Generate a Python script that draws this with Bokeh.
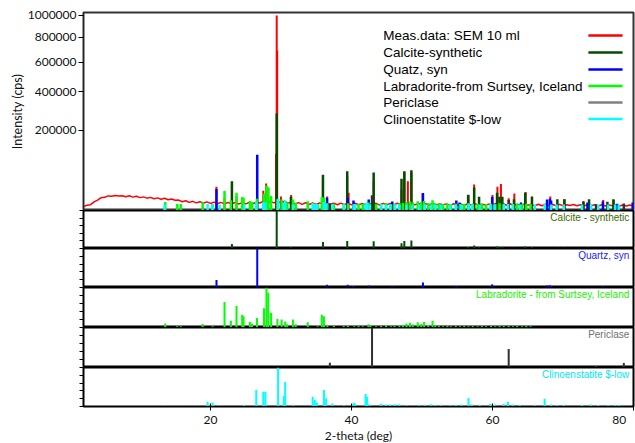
import numpy as np
from bokeh.plotting import figure
from bokeh.layouts import column
from bokeh.models import Range1d, FixedTicker, Label, Title
from bokeh.embed import file_html
from bokeh.resources import INLINE

# ---------------- data ----------------
# measured pattern: background sampled every 0.5 deg (2-theta), cps
meas_2theta = np.arange(2.0, 80.01, 0.5)
meas_counts = [
    6000, 7200, 7600, 10200, 12000, 14600, 15200, 16800, 16400, 17200,
    16600, 17100, 15800, 16900, 15300, 16300, 14700, 15600, 14100, 15000,
    13500, 14400, 12900, 13900, 12400, 13200, 11800, 12000, 10300, 11300,
    9700, 10700, 9200, 10200, 9000, 10100, 8700, 9900, 8400, 9700,
    8300, 9500, 8400, 9600, 8200, 9400, 8300, 9600, 8400, 9800,
    9100, 10600, 9800, 10500, 9200, 10700, 9100, 10800, 9000, 9800,
    8100, 9400, 7900, 9300, 7800, 9100, 7900, 9200, 8000, 8800,
    8000, 9000, 7600, 9000, 7700, 9100, 7500, 8900, 7600, 8500,
    7800, 8600, 7900, 8800, 7300, 8700, 7400, 8800, 7500, 8900,
    7700, 9100, 7800, 9000, 7500, 8400, 7700, 8500, 7200, 8600,
    7300, 8200, 7500, 8300, 7000, 8400, 7100, 8300, 7000, 8400,
    7200, 8500, 7100, 8000, 7300, 8100, 7400, 8600, 7300, 8500,
    7100, 8400, 7000, 7900, 7200, 8000, 7100, 7900, 6600, 8000,
    6700, 8100, 6800, 8000, 6600, 7900, 6700, 7600, 6900, 7700,
    6800, 7600, 6700, 7500, 6800, 7600, 6500, 7500, 6600, 7400,
    6700, 7500, 6600, 7400, 6500, 7300, 6400,
]
# measured peaks (2-theta, cps)
peak_2theta = [20.85, 22.0, 23.05, 23.7, 26.6, 27.5, 27.9, 28.2, 29.3, 29.4, 29.47,
               30.0, 31.45, 35.95, 36.55, 39.4, 39.6, 43.15, 47.1, 47.5, 48.0, 48.5,
               50.1, 56.6, 57.4, 60.0, 60.7, 61.2, 62.3, 63.1, 64.7, 65.6, 68.2,
               70.2, 72.9, 75.7, 77.2]
peak_counts = [30000, 14000, 36000, 16000, 100000, 24000, 36000, 28000, 110000, 1000000, 690000,
               16000, 18000, 44000, 16000, 50000, 21000, 40000, 26000, 60000, 40000, 58000,
               20000, 18000, 34000, 18000, 30000, 35000, 14000, 20000, 22000, 16000, 16000,
               13000, 11000, 12000, 12000]

# reference patterns (2-theta, relative intensity %)
cal_2theta = [23.05, 29.40, 31.42, 35.96, 39.40, 43.15, 47.10, 47.50, 48.50, 56.55, 57.40,
              58.10, 60.65, 61.00, 61.40, 63.05, 64.65, 65.60, 69.20, 70.20, 72.90, 73.70,
              76.30, 77.15]
cal_rel = [12, 100, 3, 17, 20, 19, 14, 20, 21, 4, 8, 3, 5, 3, 3, 2, 5, 3, 2, 2, 1, 2, 1, 2]

qtz_2theta = [20.86, 26.64, 36.54, 39.47, 40.29, 42.45, 45.79, 50.14, 54.87, 55.33, 59.96,
              64.04, 67.74, 68.14, 68.31, 73.47, 75.66, 77.67, 79.88]
qtz_rel = [19, 100, 7, 7, 4, 5, 3, 13, 4, 2, 8, 2, 5, 6, 4, 2, 3, 1, 2]

lab_2theta = [13.6, 15.3, 15.8, 18.9, 20.3, 22.0, 22.9, 23.7, 24.5, 24.7, 25.6, 25.9, 26.6,
              27.6, 27.95, 28.2, 28.6, 29.5, 30.1, 30.6, 30.9, 31.7, 32.1, 33.8, 35.2, 35.8,
              36.1, 36.6, 37.5, 38.9, 39.5, 40.4, 41.0, 41.6, 42.4, 42.7, 43.5, 44.2, 44.9,
              45.6, 46.1, 46.8, 47.3, 47.8, 48.3, 48.7, 49.4, 49.9, 50.3, 50.9, 51.5, 51.9,
              52.4, 53.0, 53.6, 54.1, 54.8, 55.4, 56.0, 56.6, 57.2, 57.9, 58.5, 59.1, 59.8,
              60.4, 61.0, 61.6, 62.3, 62.9, 63.5, 64.2, 64.8, 65.4]
lab_rel = [10, 3, 3, 9, 3, 64, 17, 54, 32, 28, 14, 10, 24,
           48, 100, 87, 37, 21, 20, 15, 8, 20, 8, 13, 3, 32,
           28, 5, 4, 4, 5, 3, 4, 3, 8, 5, 3, 4, 6,
           3, 4, 5, 6, 10, 12, 8, 13, 9, 14, 6, 17, 5,
           4, 3, 4, 3, 4, 3, 4, 3, 4, 3, 4, 3, 4,
           3, 5, 4, 4, 3, 4, 3, 4, 3]

per_2theta = [36.94, 42.92, 62.30, 74.69, 78.63]
per_rel = [12, 100, 46, 4, 11]

cen_2theta = [13.5, 19.6, 20.3, 21.3, 24.8, 26.5, 27.5, 27.8, 29.6, 30.4, 30.6, 31.7, 34.5,
              34.8, 35.1, 36.1, 36.4, 37.3, 38.95, 40.3, 40.5, 42.0, 42.2, 42.6, 44.2, 44.9,
              45.5, 46.2, 46.8, 47.8, 48.6, 49.6, 50.4, 51.3, 51.9, 52.7, 54.0, 54.8, 55.6,
              56.6, 57.1, 58.2, 59.7, 60.3, 61.6, 62.2, 62.9, 63.9, 66.0, 67.4, 68.3, 69.1,
              70.1, 72.7, 74.0, 75.0, 76.4, 77.4, 77.9]
cen_rel = [2, 12, 10, 2, 4, 42, 38, 38, 100, 27, 63, 3, 25,
           17, 10, 42, 21, 8, 3, 9, 8, 32, 25, 5, 7, 5,
           5, 6, 6, 3, 2, 3, 3, 6, 4, 3, 3, 4, 5,
           22, 5, 4, 7, 5, 7, 12, 5, 4, 3, 20, 5, 4,
           4, 4, 5, 4, 3, 3, 4]

ytick_values = [200000, 400000, 600000, 800000, 1000000]
ytick_labels = ["200000", "400000", "600000", "800000", "1000000"]
xtick_values = [20, 40, 60, 80]
xtick_labels = ["20", "40", "60", "80"]

legend_labels = ["Meas.data: SEM 10 ml", "Calcite-synthetic", "Quatz, syn",
                 "Labradorite-from Surtsey, Iceland", "Periclase", "Clinoenstatite $-low"]
panel_labels = ["Calcite - synthetic", "Quartz, syn", "Labradorite - from Surtsey, Iceland",
                "Periclase", "Clinoenstatite $-low"]

# ---------------- styling ----------------
RED = "#ff0000"
C_CAL, C_QTZ, C_LAB, C_PER, C_CEN = "#004d00", "#0000ff", "#00ff00", "#303030", "#00ffff"
LEG_COLORS = [RED, C_CAL, C_QTZ, C_LAB, "#808080", C_CEN]
LBL_COLORS = ["#3d6b00", "#1a1aff", "#22ee00", "#707070", "#00e8f0"]
TICK_FONT = "Lato"
TEXT_FONT = "Liberation Sans"

Y0, Y1 = 3500.0, 1029000.0   # sqrt-scaled intensity axis
BASE = 7500.0                # level reference sticks sit on in the top panel
SCALE = {"cal": 270000, "qtz": 100000, "lab": 25000, "per": 10000, "cen": 6000}

XR = Range1d(2, 80)
FW = 550


def sq(v):
    return np.sqrt(np.asarray(v, dtype=float))


# ---------------- top panel ----------------
top = figure(frame_width=FW, frame_height=198, x_range=XR,
             y_range=Range1d(float(sq(Y0)), float(sq(Y1))),
             output_backend="svg", toolbar_location=None,
             min_border_left=83, min_border_right=2, min_border_top=12, min_border_bottom=0)
top.xaxis.visible = False
top.grid.visible = False
top.outline_line_color = "#333333"
top.outline_line_width = 2
ticks = [float(sq(Y0))] + [float(t) for t in sq(ytick_values)]
top.yaxis.ticker = FixedTicker(ticks=ticks)
ov = {float(sq(Y0)): ""}
for t, lab in zip(ytick_values, ytick_labels):
    ov[float(sq(t))] = lab
top.yaxis.major_label_overrides = ov
top.yaxis.minor_tick_line_color = None
top.yaxis.major_tick_out = 5
top.yaxis.major_tick_in = 0
top.yaxis.major_label_standoff = 2
top.yaxis.major_label_text_font = TICK_FONT
top.yaxis.major_label_text_font_size = "12px"
top.yaxis.major_label_text_color = "#111111"
top.yaxis.axis_line_color = "#222222"

# y-axis title, shifted up as in the original
top.add_layout(Title(text="Intensity (cps)", align="center", offset=33,
                     text_font=TICK_FONT, text_font_size="12.5px", text_font_style="normal",
                     text_color="#111111", standoff=0), "left")

# measured data
top.line(meas_2theta, sq(meas_counts), line_color=RED, line_width=1.5)
top.segment(x0=peak_2theta, y0=float(sq(Y0)), x1=peak_2theta, y1=sq(peak_counts),
            line_color=RED, line_width=2)

for xs, rel, key, col in [(cal_2theta, cal_rel, "cal", C_CAL), (qtz_2theta, qtz_rel, "qtz", C_QTZ),
                          (lab_2theta, lab_rel, "lab", C_LAB), (per_2theta, per_rel, "per", C_PER),
                          (cen_2theta, cen_rel, "cen", C_CEN)]:
    vals = BASE + np.asarray(rel, dtype=float) / 100.0 * SCALE[key]
    top.segment(x0=xs, y0=float(sq(Y0)), x1=xs, y1=sq(vals), line_color=col, line_width=2.5)

# legend (drawn manually: text left, colour line right)
px_per_unit = 198.0 / (float(sq(Y1)) - float(sq(Y0)))


def ypix_to_data(py):
    return float(sq(Y0)) + (210.0 - py) / px_per_unit


leg_rows = [35, 52, 69, 85.5, 102, 118.5]
for lab, col, py in zip(legend_labels, LEG_COLORS, leg_rows):
    yd = ypix_to_data(py)
    top.add_layout(Label(x=44.5, y=yd, text=lab, text_font=TEXT_FONT, text_font_size="13.5px",
                         text_color="black", text_baseline="middle", text_align="left"))
    top.segment(x0=[73.6], y0=[yd], x1=[78.45], y1=[yd], line_color=col, line_width=2.5)

# ---------------- sub panels ----------------
panels = [(cal_2theta, cal_rel, C_CAL, 38), (qtz_2theta, qtz_rel, C_QTZ, 39),
          (lab_2theta, lab_rel, C_LAB, 40), (per_2theta, per_rel, C_PER, 40),
          (cen_2theta, cen_rel, C_CEN, 39)]
figs = [top]
for i, ((xs, rel, col, fh), lab, lcol) in enumerate(zip(panels, panel_labels, LBL_COLORS)):
    last = i == len(panels) - 1
    f = figure(frame_width=FW, frame_height=fh, x_range=XR, y_range=Range1d(0, 100),
               output_backend="svg", toolbar_location=None,
               min_border_left=83, min_border_right=2, min_border_top=0, min_border_bottom=0)
    f.grid.visible = False
    f.outline_line_color = "black"
    f.outline_line_width = 2
    f.yaxis.ticker = FixedTicker(ticks=[0, 20, 40, 60, 80, 100])
    f.yaxis.major_label_text_color = None
    f.yaxis.major_tick_out = 4
    f.yaxis.major_tick_in = 0
    f.yaxis.minor_tick_line_color = None
    f.yaxis.axis_line_color = "black"
    f.segment(x0=xs, y0=0, x1=xs, y1=rel, line_color=col, line_width=2)
    f.add_layout(Label(x=79.4, y=100 - 6.5 * 100.0 / fh, text=lab, text_font=TEXT_FONT,
                       text_font_size="10px", text_color=lcol, text_align="right",
                       text_baseline="middle"))
    if last:
        f.xaxis.ticker = FixedTicker(ticks=xtick_values)
        xov = dict(zip(xtick_values, xtick_labels))
        # last label sits at the right edge: pad it so it stays inside the canvas
        xov[xtick_values[-1]] = xtick_labels[-1] + "\u00a0\u00a0\u00a0"
        f.xaxis.major_label_overrides = xov
        f.xaxis.major_tick_out = 4
        f.xaxis.major_tick_in = 3
        f.xaxis.minor_tick_line_color = None
        f.xaxis.major_label_standoff = 1
        f.xaxis.major_label_text_font = TICK_FONT
        f.xaxis.major_label_text_font_size = "12px"
        f.xaxis.major_label_text_color = "#111111"
        f.xaxis.axis_label = "2-theta (deg)"
        f.xaxis.axis_label_text_font = TICK_FONT
        f.xaxis.axis_label_text_font_size = "12px"
        f.xaxis.axis_label_text_font_style = "normal"
        f.xaxis.axis_label_text_color = "#111111"
        f.xaxis.axis_label_standoff = -2
        f.xaxis.axis_line_color = "black"
    else:
        f.xaxis.visible = False
    figs.append(f)

layout = column(*figs, spacing=0)
open("out.html", "w").write(file_html(layout, INLINE))
